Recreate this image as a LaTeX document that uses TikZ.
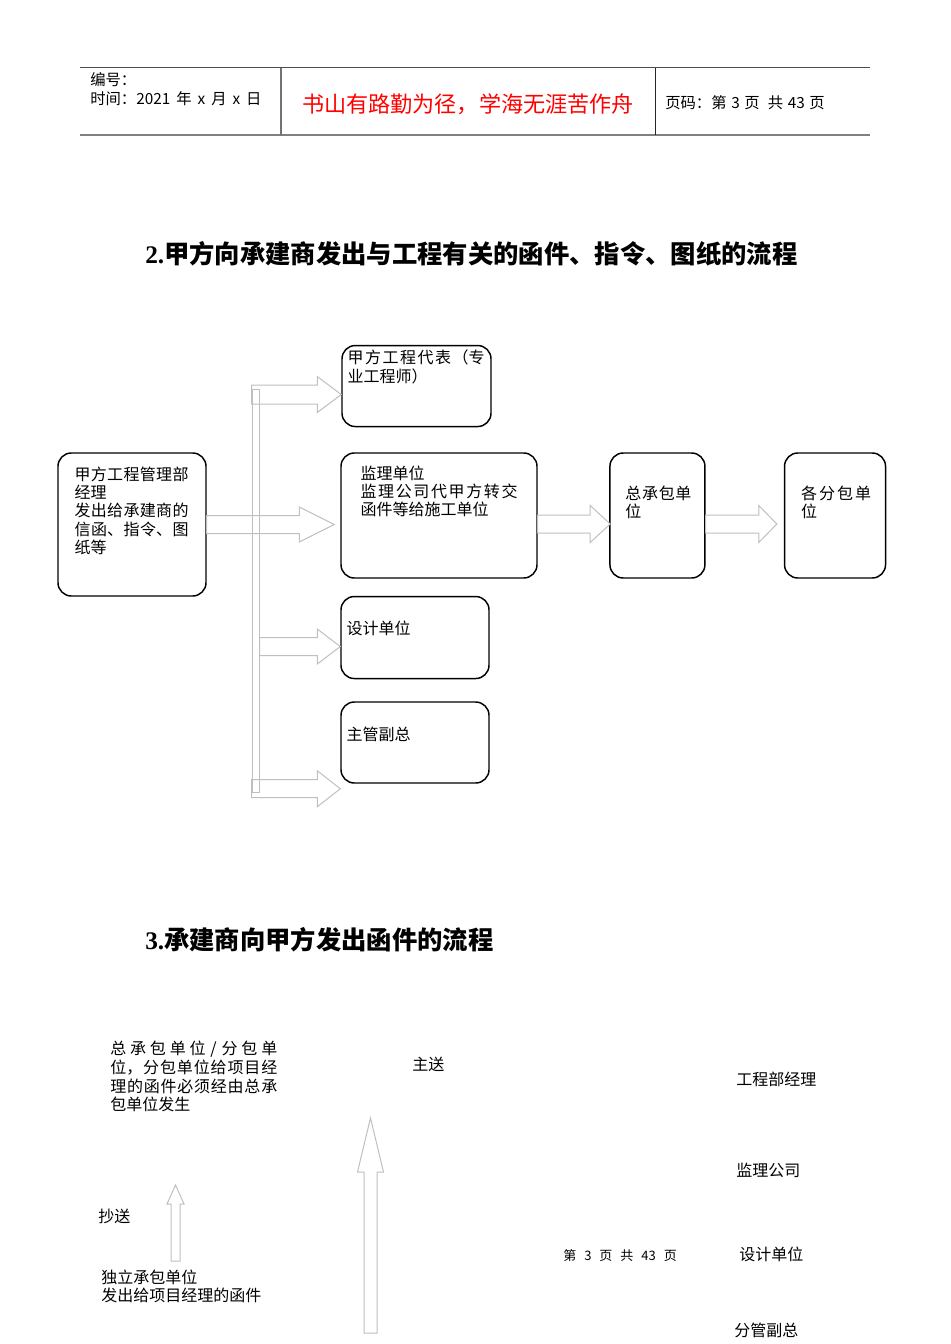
\documentclass[tikz,border=0pt]{standalone}
\usepackage{fontspec}
\setmainfont{Noto Sans CJK SC}
\newfontfamily\tnr{Liberation Serif}
\usetikzlibrary{positioning,calc}
\XeTeXlinebreaklocale "zh"
\XeTeXlinebreakskip=0pt plus 4pt
\tolerance=10000
\hbadness=10000
\parindent=0pt

% hollow block arrows: #1 tail, #2 tip, #3 half shaft, #4 half head, #5 head length
\newcommand{\rightblock}[5]{\draw[blk] ($(#1)+(0,-#3)$) -- ($(#2)+(-#5,-#3)$) -- ($(#2)+(-#5,-#4)$) -- (#2) -- ($(#2)+(-#5,#4)$) -- ($(#2)+(-#5,#3)$) -- ($(#1)+(0,#3)$) -- cycle;}
\newcommand{\upblock}[5]{\draw[blk] ($(#1)+(-#3,0)$) -- ($(#2)+(-#3,#5)$) -- ($(#2)+(-#4,#5)$) -- (#2) -- ($(#2)+(#4,#5)$) -- ($(#2)+(#3,#5)$) -- ($(#1)+(#3,0)$) -- cycle;}

\begin{document}
\begin{tikzpicture}[x=0.75pt, y=-0.75pt]
      \tikzstyle{box} = [rectangle, draw, line width=1.1pt, rounded corners=10pt, inner sep=0pt]
      \tikzstyle{txt} = [anchor=north west, inner sep=0pt, align=justify, font=\fontsize{12}{13.75}\selectfont]
      \tikzstyle{lbl} = [anchor=west, inner sep=0pt, font=\fontsize{12}{13.75}\selectfont]
      \tikzstyle{head} = [anchor=west, inner sep=0pt, font=\fontsize{11.5}{13}\selectfont]
      \tikzstyle{title} = [anchor=west, inner sep=0pt, font=\fontsize{19}{22}\selectfont\bfseries]
      \tikzstyle{blk} = [draw=black!25, line width=0.75pt]
      \useasboundingbox (0,0) rectangle (950,1344);
      % page header
      \draw[black!70, line width=0.75pt] (80,68) -- (870,68);
      \draw[black!50, line width=1.5pt] (80,135) -- (870,135);
      \draw[black!55, line width=1.2pt] (281,68) -- (281,135);
      \draw[black!85, line width=0.75pt] (655,68) -- (655,135);
        \node [head] (serial) at (90,80) {编号：};
        \node [head] (date) at (90,99) {时间：2021\hspace{4.5pt}年\hspace{4.5pt}x\hspace{4.5pt}月\hspace{4.5pt}x\hspace{4.5pt}日};
        \node [inner sep=0pt, text=red, font=\fontsize{16.6}{19}\selectfont] (motto) at (468,104) {书山有路勤为径，学海无涯苦作舟};
        \node [head] (pageinfo) at (665,103) {页码：第\hspace{3.5pt}3\hspace{3.5pt}页\hspace{6pt}共\hspace{3.5pt}43\hspace{3.5pt}页};
      % flow 2
        \node [title] (flowtwo) at (145,254) {{\tnr 2.}甲方向承建商发出与工程有关的函件、指令、图纸的流程};
        \node [box, minimum width=111pt, minimum height=107.25pt] (mgr) at (132,524.5) {};
        \node [box, minimum width=147pt, minimum height=93.75pt] (sup) at (439,515.5) {};
        \node [box, minimum width=111.75pt, minimum height=60.75pt, above=18.75pt of sup.north west, anchor=south west, xshift=0.75pt] (rep) {};
        \node [box, minimum width=71.25pt, minimum height=93.75pt, right=53.6pt of sup] (gc) {};
        \node [box, minimum width=75.75pt, minimum height=93.75pt, right=58.6pt of gc] (subs) {};
        \node [box, minimum width=111pt, minimum height=61.5pt, below=12.8pt of sup.south west, anchor=north west] (design) {};
        \node [box, minimum width=111pt, minimum height=60.75pt, below=16.5pt of design] (vp) {};
        \node [txt, text width=85.5pt] (mgrtxt) at ([xshift=12.75pt, yshift=-10.5pt]mgr.north west) {甲方工程管理部经理\\发出给承建商的信函、指令、图纸等};
        \node [txt, text width=102.75pt] (reptxt) at ([xshift=4.5pt, yshift=-3.75pt]rep.north west) {甲方工程代表（专业工程师）};
        \node [txt, text width=117.75pt] (suptxt) at ([xshift=15pt, yshift=-9.75pt]sup.north west) {监理单位\\监理公司代甲方转交函件等给施工单位};
        \node [txt, text width=49.5pt] (gctxt) at ([xshift=12pt, yshift=-24.75pt]gc.north west) {总承包单位};
        \node [txt, text width=52.5pt] (substxt) at ([xshift=12.75pt, yshift=-24.75pt]subs.north west) {各分包单位};
        \node [txt] (designtxt) at ([xshift=4.5pt, yshift=-18.75pt]design.north west) {设计单位};
        \node [txt] (vptxt) at ([xshift=4.5pt, yshift=-18.75pt]vp.north west) {主管副总};
        \node [rectangle, draw=black!25, line width=0.75pt, minimum width=5.25pt, minimum height=302.25pt, inner sep=0pt] (bus) at (255.5,590.5) {};
        \coordinate (tipsup) at ($(sup.west |- mgr.east)+(-6,0)$);
        \coordinate (tiprep) at ($(rep.west)+(0,8.5)$);
        \coordinate (tipdes) at ($(design.west)+(0,9)$);
        \coordinate (tipvp) at ($(vp.south west)+(0,5)$);
        \coordinate (tipgc) at ($(gc.west)+(1,8.5)$);
        \coordinate (tipsubs) at ($(subs.west)+(-7,8.5)$);
        \rightblock{mgr.east}{tipsup}{9}{17.5}{35}
        \rightblock{bus.west |- tiprep}{tiprep}{9.5}{18}{24}
        \rightblock{bus.east |- tipdes}{tipdes}{9}{17.5}{23}
        \rightblock{bus.west |- tipvp}{tipvp}{9}{18}{23}
        \rightblock{sup.east |- tipgc}{tipgc}{9}{18.5}{20}
        \rightblock{gc.east |- tipsubs}{tipsubs}{9}{18.5}{18}
      % flow 3
        \node [title] (flowthree) at (145,940) {{\tnr 3.}承建商向甲方发出函件的流程};
        \node [txt, text width=125.25pt, font=\fontsize{12}{14}\selectfont] (gcsub) at (110,1041) {总承包单位 / 分包单位，分包单位给项目经理的函件必须经由总承包单位发生};
        \node [lbl] (mainsend) at (412,1064) {主送};
        \node [lbl] (pm) at (736,1079) {工程部经理};
        \node [lbl] (supco) at (736,1170) {监理公司};
        \node [lbl] (desu) at (739,1254) {设计单位};
        \node [lbl] (vpdep) at (734,1330) {分管副总};
        \node [lbl] (ccsend) at (98,1216) {抄送};
        \node [txt, align=left, font=\fontsize{12}{13.5}\selectfont] (indep) at (101,1270) {独立承包单位\\发出给项目经理的函件};
        \node [lbl, font=\fontsize{9.75}{11}\selectfont] (pageno) at (563,1256) {第\hspace{6pt}3\hspace{6pt}页\hspace{6pt}共\hspace{6pt}43\hspace{6pt}页};
        \coordinate (ccfoot) at (175.5,1261);
        \coordinate (cctip) at (175.5,1185);
        \coordinate (mainfoot) at (370.5,1333);
        \coordinate (maintip) at (370.5,1118);
        \upblock{ccfoot}{cctip}{4.5}{8.5}{19}
        \upblock{mainfoot}{maintip}{6.5}{13}{54}
\end{tikzpicture}
\end{document}
